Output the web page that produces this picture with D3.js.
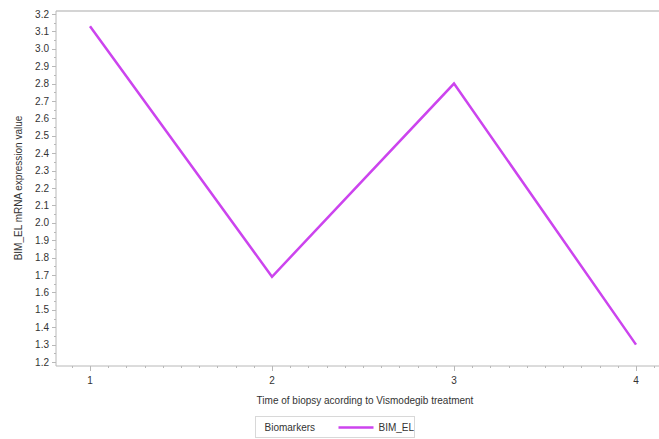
<!DOCTYPE html>
<html>
<head>
<meta charset="utf-8">
<script src="https://cdn.jsdelivr.net/npm/d3@7"></script>
<style>
	body { margin: 0; background: #fff; }
	svg { display: block; font-family: "Liberation Sans", Arial, sans-serif; }
</style>
</head>
<body>
<div id="chart"></div>
<script>
// biopsy time points and BIM_EL values
var times = [1, 2, 3, 4];
var bimEl = [3.13, 1.69, 2.8, 1.3];
var yTicks = [1.2, 1.3, 1.4, 1.5, 1.6, 1.7, 1.8, 1.9, 2.0, 2.1, 2.2, 2.3, 2.4, 2.5, 2.6, 2.7, 2.8, 2.9, 3.0, 3.1, 3.2];
var seriesName = "BIM_EL";

var width = 659,
	height = 439;

var lineColor = "#cc44ee",
	axisColor = "#b8b8b8",
	textColor = "#333";

var x = d3.scaleLinear().domain([1, 4]).range([90, 636]);
var y = d3.scaleLinear().domain([1.2, 3.2]).range([362, 14]);

var plotLeft = 56,
	plotTop = 11,
	plotBottom = 366;

var svg = d3
	.select("#chart")
	.append("svg")
	.attr("width", width)
	.attr("height", height);

// frame: top border and axis lines
svg.append("line")
	.attr("x1", plotLeft).attr("x2", width)
	.attr("y1", plotTop).attr("y2", plotTop)
	.attr("stroke", "#d4d4d4").attr("stroke-width", 2);

svg.append("line")
	.attr("x1", plotLeft).attr("x2", plotLeft)
	.attr("y1", plotTop).attr("y2", plotBottom)
	.attr("stroke", axisColor);

svg.append("line")
	.attr("x1", plotLeft).attr("x2", width)
	.attr("y1", plotBottom).attr("y2", plotBottom)
	.attr("stroke", axisColor);

// y axis ticks
var yAxis = svg.append("g");
var yMinor = d3.range(1.2, 3.2001, 0.05);
yAxis.selectAll(".minor")
	.data(yMinor)
	.join("line")
	.attr("x1", plotLeft - 2).attr("x2", plotLeft)
	.attr("y1", (d) => Math.round(y(d)) + 0.5)
	.attr("y2", (d) => Math.round(y(d)) + 0.5)
	.attr("stroke", axisColor);

yAxis.selectAll(".major")
	.data(yTicks)
	.join("line")
	.attr("x1", plotLeft - 4).attr("x2", plotLeft)
	.attr("y1", (d) => Math.round(y(d)) + 0.5)
	.attr("y2", (d) => Math.round(y(d)) + 0.5)
	.attr("stroke", axisColor);

yAxis.selectAll("text")
	.data(yTicks)
	.join("text")
	.attr("x", plotLeft - 7)
	.attr("y", (d) => y(d))
	.attr("dy", "0.35em")
	.attr("text-anchor", "end")
	.attr("font-size", 10)
	.attr("fill", textColor)
	.text((d) => d3.format(".1f")(d));

// x axis ticks
var xAxis = svg.append("g");
var xMinor = d3.range(0.9, 4.2, 0.1).filter((d) => x(d) > plotLeft && x(d) < width);
xAxis.selectAll(".minor")
	.data(xMinor)
	.join("line")
	.attr("x1", (d) => Math.round(x(d)) + 0.5)
	.attr("x2", (d) => Math.round(x(d)) + 0.5)
	.attr("y1", plotBottom).attr("y2", plotBottom + 2)
	.attr("stroke", axisColor);

xAxis.selectAll(".major")
	.data(times)
	.join("line")
	.attr("x1", (d) => Math.round(x(d)) + 0.5)
	.attr("x2", (d) => Math.round(x(d)) + 0.5)
	.attr("y1", plotBottom).attr("y2", plotBottom + 5)
	.attr("stroke", axisColor);

xAxis.selectAll("text")
	.data(times)
	.join("text")
	.attr("x", (d) => x(d))
	.attr("y", plotBottom + 18)
	.attr("text-anchor", "middle")
	.attr("font-size", 10)
	.attr("fill", textColor)
	.text((d) => d);

// axis titles
svg.append("text")
	.attr("x", 365)
	.attr("y", 404)
	.attr("text-anchor", "middle")
	.attr("font-size", 10)
	.attr("fill", textColor)
	.text("Time of biopsy acording to Vismodegib treatment");

svg.append("text")
	.attr("transform", "translate(22," + 188 + ") rotate(-90)")
	.attr("text-anchor", "middle")
	.attr("font-size", 10)
	.attr("fill", textColor)
	.text("BIM_EL mRNA expression value");

// series line
var line = d3
	.line()
	.x((d, i) => x(times[i]))
	.y((d) => y(d));

svg.append("path")
	.datum(bimEl)
	.attr("d", line)
	.attr("fill", "none")
	.attr("stroke", lineColor)
	.attr("stroke-width", 2.5)
	.attr("stroke-linejoin", "miter");

// legend
var legend = svg.append("g").attr("transform", "translate(255.5,416.5)");
legend.append("rect")
	.attr("width", 159)
	.attr("height", 21)
	.attr("fill", "#fff")
	.attr("stroke", "#d8d8d8");
legend.append("text")
	.attr("x", 9)
	.attr("y", 11)
	.attr("dy", "0.35em")
	.attr("font-size", 10)
	.attr("fill", textColor)
	.text("Biomarkers");
legend.append("line")
	.attr("x1", 83).attr("x2", 118)
	.attr("y1", 11).attr("y2", 11)
	.attr("stroke", lineColor)
	.attr("stroke-width", 2.5);
legend.append("text")
	.attr("x", 123)
	.attr("y", 11)
	.attr("dy", "0.35em")
	.attr("font-size", 10)
	.attr("fill", textColor)
	.text(seriesName);
</script>
</body>
</html>
